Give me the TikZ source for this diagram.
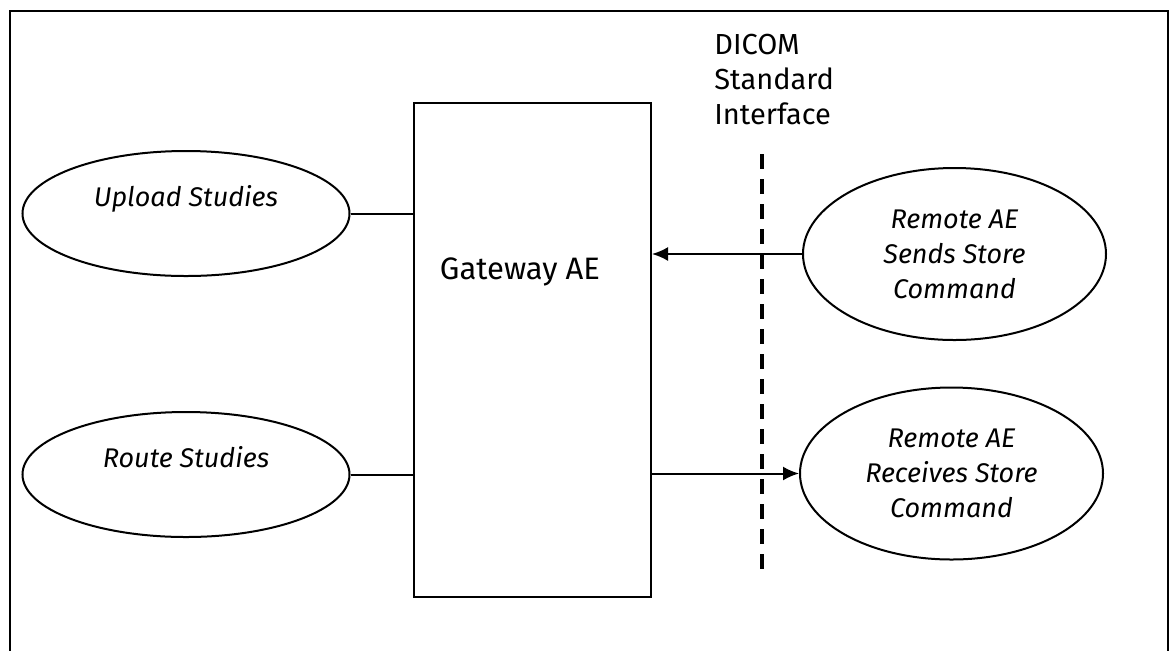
\documentclass[tikz,border=0pt]{standalone}
\usepackage{fontspec}
\setmainfont{Fira Sans}
\usetikzlibrary{arrows.meta,shapes.geometric}

\begin{document}
\begin{tikzpicture}[
x=0.5pt, y=-0.5pt,
font=\fontsize{14.5}{17.5}\selectfont,
    E/.style = {ellipse, draw, line width=1pt,% use-case ellipses
                inner sep=0pt, align=center,
                font=\fontsize{13.5}{17.5}\selectfont\itshape},
    B/.style = {rectangle, draw, line width=1pt,% application entity box
                minimum width=118.5pt, minimum height=247pt},
    L/.style = {line width=1pt},
    A/.style = {L, -{Latex[length=8pt,width=7pt]}},
                        ]
\useasboundingbox (0,0) rectangle (1173,650);
\draw[line width=1.2pt] (10,670) |- (1168,11) -- (1168,670);
\node[B] (gw) at (532.5,350) {};
\node[font=\fontsize{15.5}{17.5}\selectfont] (gwlbl) at (520,272) {Gateway AE};
\node[anchor=north west, inner sep=0pt, align=left] (dicom) at (714,34)
    {DICOM\\Standard\\Interface};
\coordinate (if1) at (762,154);
\coordinate (if2) at (762,578);
\draw[line width=1.7pt, dash pattern=on 7.5pt off 5pt] (if1) -- (if2);
\foreach \n/\y/\t in {up/213.5/Upload,rt/474.5/Route}% <-- left ellipses
  {
  \node[E, minimum width=163.5pt, minimum height=62.5pt] (\n) at (186,\y)
      {\t{} Studies\\\mbox{}};
  \draw[L] (\n.east) -- (\n.east -| gw.west);
  }
\node[E, minimum width=151.5pt, minimum height=86pt] (snd) at (954.5,254)
    {Remote AE\\Sends Store\\Command};
\node[E, minimum width=151.5pt, minimum height=86pt] (rcv) at (951.5,473.5)
    {Remote AE\\Receives Store\\Command};
\draw[A] (snd.west) -- (snd.west -| gw.east);
\draw[A] (rcv.west -| gw.east) -- (rcv.west);
\end{tikzpicture}
\end{document}
